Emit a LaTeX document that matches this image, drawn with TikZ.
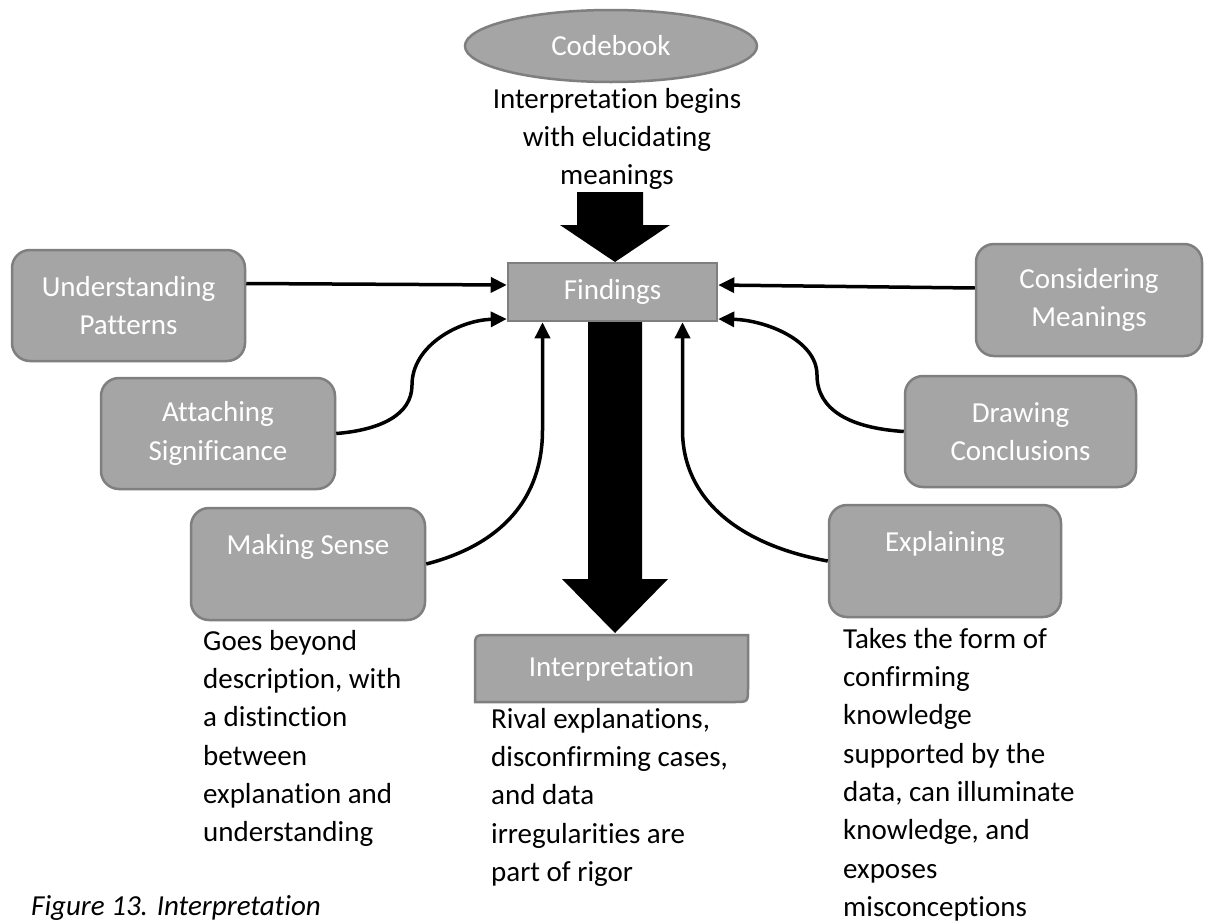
\documentclass[tikz,border=0pt]{standalone}
\usepackage{fontspec}
\setmainfont{Carlito}[Ligatures={NoCommon}]
\usetikzlibrary{arrows.meta,shapes.geometric,calc}
\definecolor{boxfill}{RGB}{165,165,165}
\definecolor{boxline}{RGB}{127,127,127}
\tikzset{
  txt/.style={font=\fontsize{29}{38.3}\selectfont},
  gbox/.style={txt, draw=boxline, fill=boxfill, line width=2.5pt, text=white, align=center, inner sep=0pt, rounded corners=18pt},
  conn/.style={line width=3.5pt, -{Triangle[length=16pt,width=15pt]}},
  fat/.style={fill=black, draw=none},
  note/.style={txt, align=left, inner sep=0pt, anchor=north west}
}
\begin{document}
\begin{tikzpicture}[x=1pt,y=-1pt]
\useasboundingbox[fill=white] (0,0) rectangle (1208,924);

% fat arrows
\fill[fat] (577,192) -- (643,192) -- (643,225) -- (670,225) -- (615,262) -- (560,225) -- (577,225) -- cycle;
\fill[fat] (588,321) -- (642,321) -- (642,579) -- (668,579) -- (615,633) -- (562,579) -- (588,579) -- cycle;

% nodes
\node[gbox, ellipse, minimum width=292pt, minimum height=72pt] (codebook) at (611,46) {Codebook};
\node[gbox, sharp corners, minimum width=209pt, minimum height=58pt] (findings) at (612.5,292) {Findings};
\node[txt, text=white, minimum width=273pt, minimum height=67pt, inner sep=0pt] (interp) at (611.5,668.5) {};
\filldraw[draw=boxline, fill=boxfill, line width=2.5pt] (475,702) -- (475,649) .. controls (475,635) .. (489,635) -- (748,635) -- (748,688) .. controls (748,702) .. (734,702) -- cycle;
\node[txt, text=white] at (interp.center) {Interpretation};

\node[gbox, minimum width=233pt, minimum height=111pt] (up) at (128.5,305.5) {Understanding\\Patterns};
\node[gbox, minimum width=234pt, minimum height=111pt] (att) at (218,433.5) {Attaching\\Significance};
\node[gbox, minimum width=234pt, minimum height=112pt] (ms) at (308,564) {Making Sense\\\mbox{}};
\node[gbox, minimum width=226pt, minimum height=112pt] (cm) at (1089,300) {Considering\\Meanings};
\node[gbox, minimum width=231pt, minimum height=111pt] (dc) at (1020.5,431.5) {Drawing\\Conclusions};
\node[gbox, minimum width=232pt, minimum height=112pt] (ex) at (945,561) {Explaining\\\mbox{}};

% texts
\node[txt, align=center, inner sep=0pt, anchor=north] (t1) at (617,81.2) {\strut Interpretation begins\\with elucidating\\meanings};
\node[note] (t2) at (203,623.2) {\strut Goes beyond\\description, with\\a distinction\\between\\explanation and\\understanding};
\node[note] (t3) at (491,701.2) {\strut Rival explanations,\\disconfirming cases,\\and data\\irregularities are\\part of rigor};
\node[note] (t4) at (843,621.2) {\strut Takes the form of\\confirming\\knowledge\\supported by the\\data, can illuminate\\knowledge, and\\exposes\\misconceptions};
\node[txt, inner sep=0pt, anchor=base west] (cap) at (31,915) {\itshape Figure 13. Interpretation};

% connectors
\draw[conn] ([yshift=22pt]up.east) -- ([yshift=7pt]findings.west);
\draw[conn] (att.east) .. controls (380,430) and (412,415) .. (412,385) .. controls (412,345) and (460,320) .. ([yshift=-27pt]findings.west);
\draw[conn] (ms.east) .. controls (500,545) and (542.5,500) .. (542.5,430) -- ([xshift=-70pt]findings.south);
\draw[conn] ([yshift=12pt]cm.west) -- ([yshift=7pt]findings.east);
\draw[conn] (dc.west) .. controls (850,428) and (817,410) .. (817,375) .. controls (817,340) and (765,320) .. ([yshift=-27pt]findings.east);
\draw[conn] (ex.west) .. controls (740,545) and (682.5,500) .. (682.5,430) -- ([xshift=70pt]findings.south);
\end{tikzpicture}
\end{document}
